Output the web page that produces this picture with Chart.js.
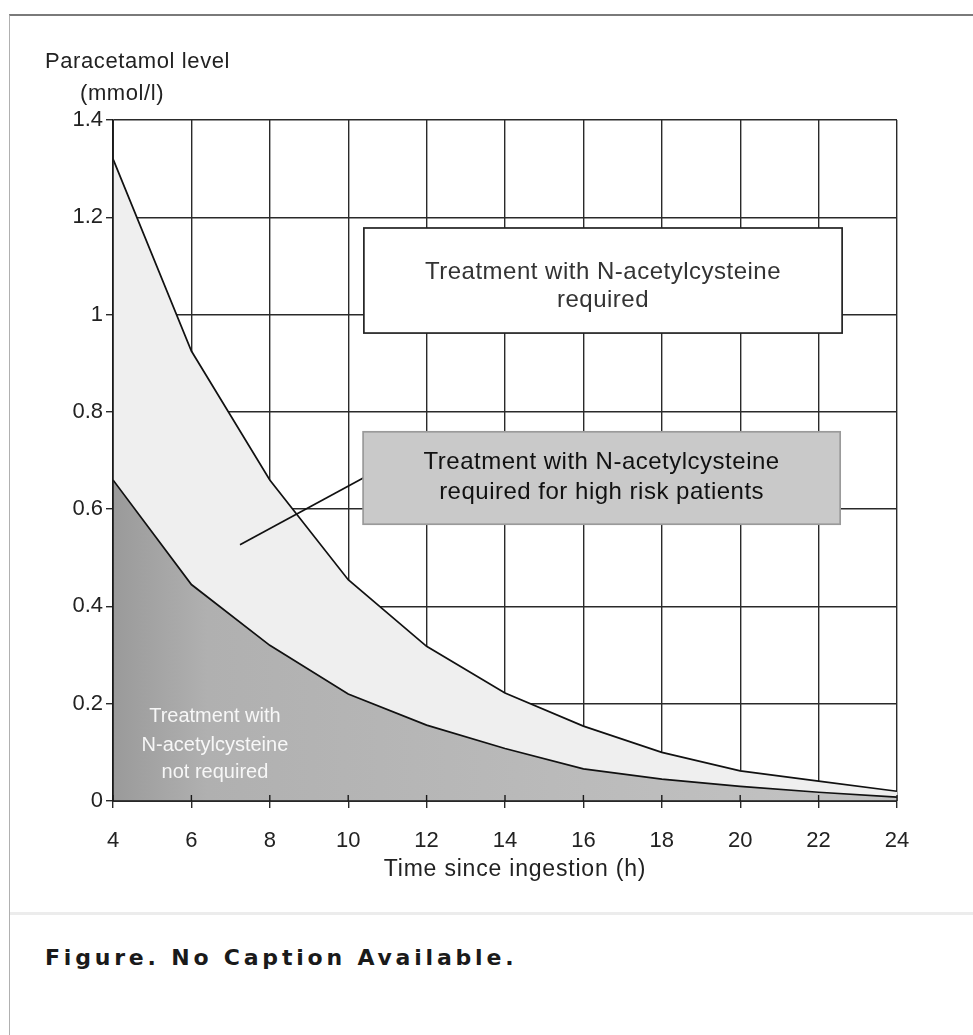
<!DOCTYPE html>
<html>
<head>
<meta charset="utf-8">
<script src="https://cdn.jsdelivr.net/npm/chart.js@4.4.1/dist/chart.umd.min.js"></script>
<style>
  html, body { margin: 0; padding: 0; background: #fff; }
  body { width: 973px; height: 1035px; position: relative; overflow: hidden; }
  #frame { position: absolute; left: 9px; top: 14px; right: -2px; bottom: -2px;
           border-top: 2px solid #7a7a7a; border-left: 1px solid #b0b0b0; }
  #sep { position: absolute; left: 10px; right: 0; top: 912px; height: 3px; background: #ececec; }
  #wrap { position: absolute; left: 0; top: 0; width: 973px; height: 905px; }
  #caption { position: absolute; left: 45px; top: 945px; font-family: "DejaVu Sans", sans-serif;
             font-weight: bold; font-size: 22px; letter-spacing: 3.8px; color: #1a1a1a; }
</style>
</head>
<body>
<div id="frame"></div>
<div id="sep"></div>
<div id="wrap"><canvas id="chartCanvas" width="973" height="905"></canvas></div>
<div id="caption">Figure. No Caption Available.</div>
<script>
// hours since ingestion
const hours = [4, 6, 8, 10, 12, 14, 16, 18, 20, 22, 24];
// upper treatment line (mmol/l)
const treatLine = [1.32, 0.925, 0.66, 0.455, 0.318, 0.222, 0.154, 0.1, 0.062, 0.041, 0.02];
// high risk treatment line (mmol/l)
const highRiskLine = [0.66, 0.445, 0.32, 0.22, 0.156, 0.108, 0.066, 0.045, 0.03, 0.018, 0.008];
const xTicks = [4, 6, 8, 10, 12, 14, 16, 18, 20, 22, 24];
const yTicks = [0, 0.2, 0.4, 0.6, 0.8, 1, 1.2, 1.4];

// annotation boxes in data units
const boxTop = { x1: 10.4, x2: 22.6, y1: 1.178, y2: 0.962, ty: [-8, 20], lines: ['Treatment with N-acetylcysteine', 'required'] };
const boxMid = { x1: 10.38, x2: 22.55, y1: 0.759, y2: 0.569, ty: [-16, 14], lines: ['Treatment with N-acetylcysteine', 'required for high risk patients'] };
const pointer = [[7.24, 0.527], [10.43, 0.666]];
const lowLabel = { x: 6.6, y: [0.173, 0.115, 0.058], lines: ['Treatment with', 'N-acetylcysteine', 'not required'] };
const strayDot = [{ x: 8.06, y: 0.177 }];

const FONT = '"Liberation Sans", Arial, sans-serif';

const toPts = arr => hours.map((h, i) => ({ x: h, y: arr[i] }));

const extras = {
  id: 'extras',
  afterDatasetsDraw(chart) {
    const { ctx, chartArea: a, scales: { x, y } } = chart;
    ctx.save();

    // axis lines and inner tick marks over the fill
    ctx.strokeStyle = '#1a1a1a';
    ctx.lineWidth = 1.6;
    ctx.beginPath();
    ctx.moveTo(a.left, a.top); ctx.lineTo(a.left, a.bottom);
    ctx.lineTo(a.right, a.bottom);
    ctx.stroke();
    ctx.lineWidth = 1.4;
    xTicks.forEach(t => {
      const px = x.getPixelForValue(t);
      ctx.beginPath(); ctx.moveTo(px, a.bottom - 6); ctx.lineTo(px, a.bottom); ctx.stroke();
    });

    // white label inside the lower area
    ctx.fillStyle = 'rgba(255,255,255,0.9)';
    ctx.font = '20px ' + FONT;
    ctx.textAlign = 'center';
    ctx.textBaseline = 'middle';
    lowLabel.lines.forEach((s, i) => ctx.fillText(s, x.getPixelForValue(lowLabel.x), y.getPixelForValue(lowLabel.y[i])));

    // pointer line
    ctx.strokeStyle = '#111';
    ctx.lineWidth = 1.7;
    ctx.beginPath();
    ctx.moveTo(x.getPixelForValue(pointer[0][0]), y.getPixelForValue(pointer[0][1]));
    ctx.lineTo(x.getPixelForValue(pointer[1][0]), y.getPixelForValue(pointer[1][1]));
    ctx.stroke();

    // boxes
    const drawBox = (b, fill, stroke, color) => {
      const l = x.getPixelForValue(b.x1), r = x.getPixelForValue(b.x2);
      const t = y.getPixelForValue(b.y1), bt = y.getPixelForValue(b.y2);
      ctx.fillStyle = fill;
      ctx.fillRect(l, t, r - l, bt - t);
      ctx.strokeStyle = stroke;
      ctx.lineWidth = 1.7;
      ctx.strokeRect(l, t, r - l, bt - t);
      ctx.fillStyle = color;
      ctx.font = '24px ' + FONT;
      ctx.letterSpacing = '0.5px';
      const cx = (l + r) / 2, cy = (t + bt) / 2;
      ctx.fillText(b.lines[0], cx, cy + b.ty[0]);
      ctx.fillText(b.lines[1], cx, cy + b.ty[1]);
    };
    drawBox(boxTop, '#ffffff', '#222', '#333');
    drawBox(boxMid, '#c9c9c9', '#9a9a9a', '#111');

    // axis titles
    ctx.fillStyle = '#222';
    ctx.font = '22px ' + FONT;
    ctx.letterSpacing = '0.6px';
    ctx.textAlign = 'left';
    ctx.fillText('Paracetamol level', a.left - 68, 62);
    ctx.fillText('(mmol/l)', a.left - 33, 94);
    ctx.textAlign = 'center';
    ctx.font = '23px ' + FONT;
    ctx.letterSpacing = '0.8px';
    ctx.fillText('Time since ingestion (h)', (a.left + a.right) / 2 + 10, a.bottom + 69);
    ctx.restore();
  }
};

new Chart(document.getElementById('chartCanvas').getContext('2d'), {
  type: 'line',
  data: {
    datasets: [
      {
        label: 'High risk line',
        data: toPts(highRiskLine),
        borderColor: '#111',
        borderWidth: 1.7,
        pointRadius: 0,
        tension: 0,
        fill: 'origin',
        backgroundColor(c) {
          const area = c.chart.chartArea;
          if (!area) return '#b3b3b3';
          const g = c.chart.ctx.createLinearGradient(area.left, 0, area.right, 0);
          g.addColorStop(0, '#9a9a9a');
          g.addColorStop(0.12, '#b0b0b0');
          g.addColorStop(1, '#c4c4c4');
          return g;
        }
      },
      {
        label: 'Treatment line',
        data: toPts(treatLine),
        borderColor: '#111',
        borderWidth: 1.7,
        pointRadius: 0,
        tension: 0,
        fill: '-1',
        backgroundColor: '#efefef'
      },
      {
        label: 'dot',
        data: strayDot,
        showLine: false,
        pointRadius: 2.5,
        pointBackgroundColor: '#111',
        pointBorderWidth: 0
      }
    ]
  },
  options: {
    responsive: false,
    animation: false,
    layout: { padding: { left: 0, right: 76, top: 120, bottom: 0 } },
    plugins: { legend: { display: false }, tooltip: { enabled: false } },
    scales: {
      x: {
        type: 'linear', min: 4, max: 24,
        afterBuildTicks: s => { s.ticks = xTicks.map(v => ({ value: v })); },
        afterFit: s => { s.height = 104; },
        grid: { color: '#2a2a2a', lineWidth: 1.4, tickLength: 7 },
        border: { color: '#1a1a1a', width: 1.6 },
        ticks: { color: '#222', font: { family: FONT, size: 22 }, padding: 20, maxRotation: 0 }
      },
      y: {
        min: 0, max: 1.4,
        afterBuildTicks: s => { s.ticks = yTicks.map(v => ({ value: v })); },
        afterFit: s => { s.width = 113; },
        grid: { color: '#2a2a2a', lineWidth: 1.4, tickLength: 7 },
        border: { color: '#1a1a1a', width: 1.6 },
        ticks: { color: '#222', font: { family: FONT, size: 22 }, padding: 3, callback: v => String(+v.toFixed(1)) }
      }
    }
  },
  plugins: [extras]
});
</script>
</body>
</html>
